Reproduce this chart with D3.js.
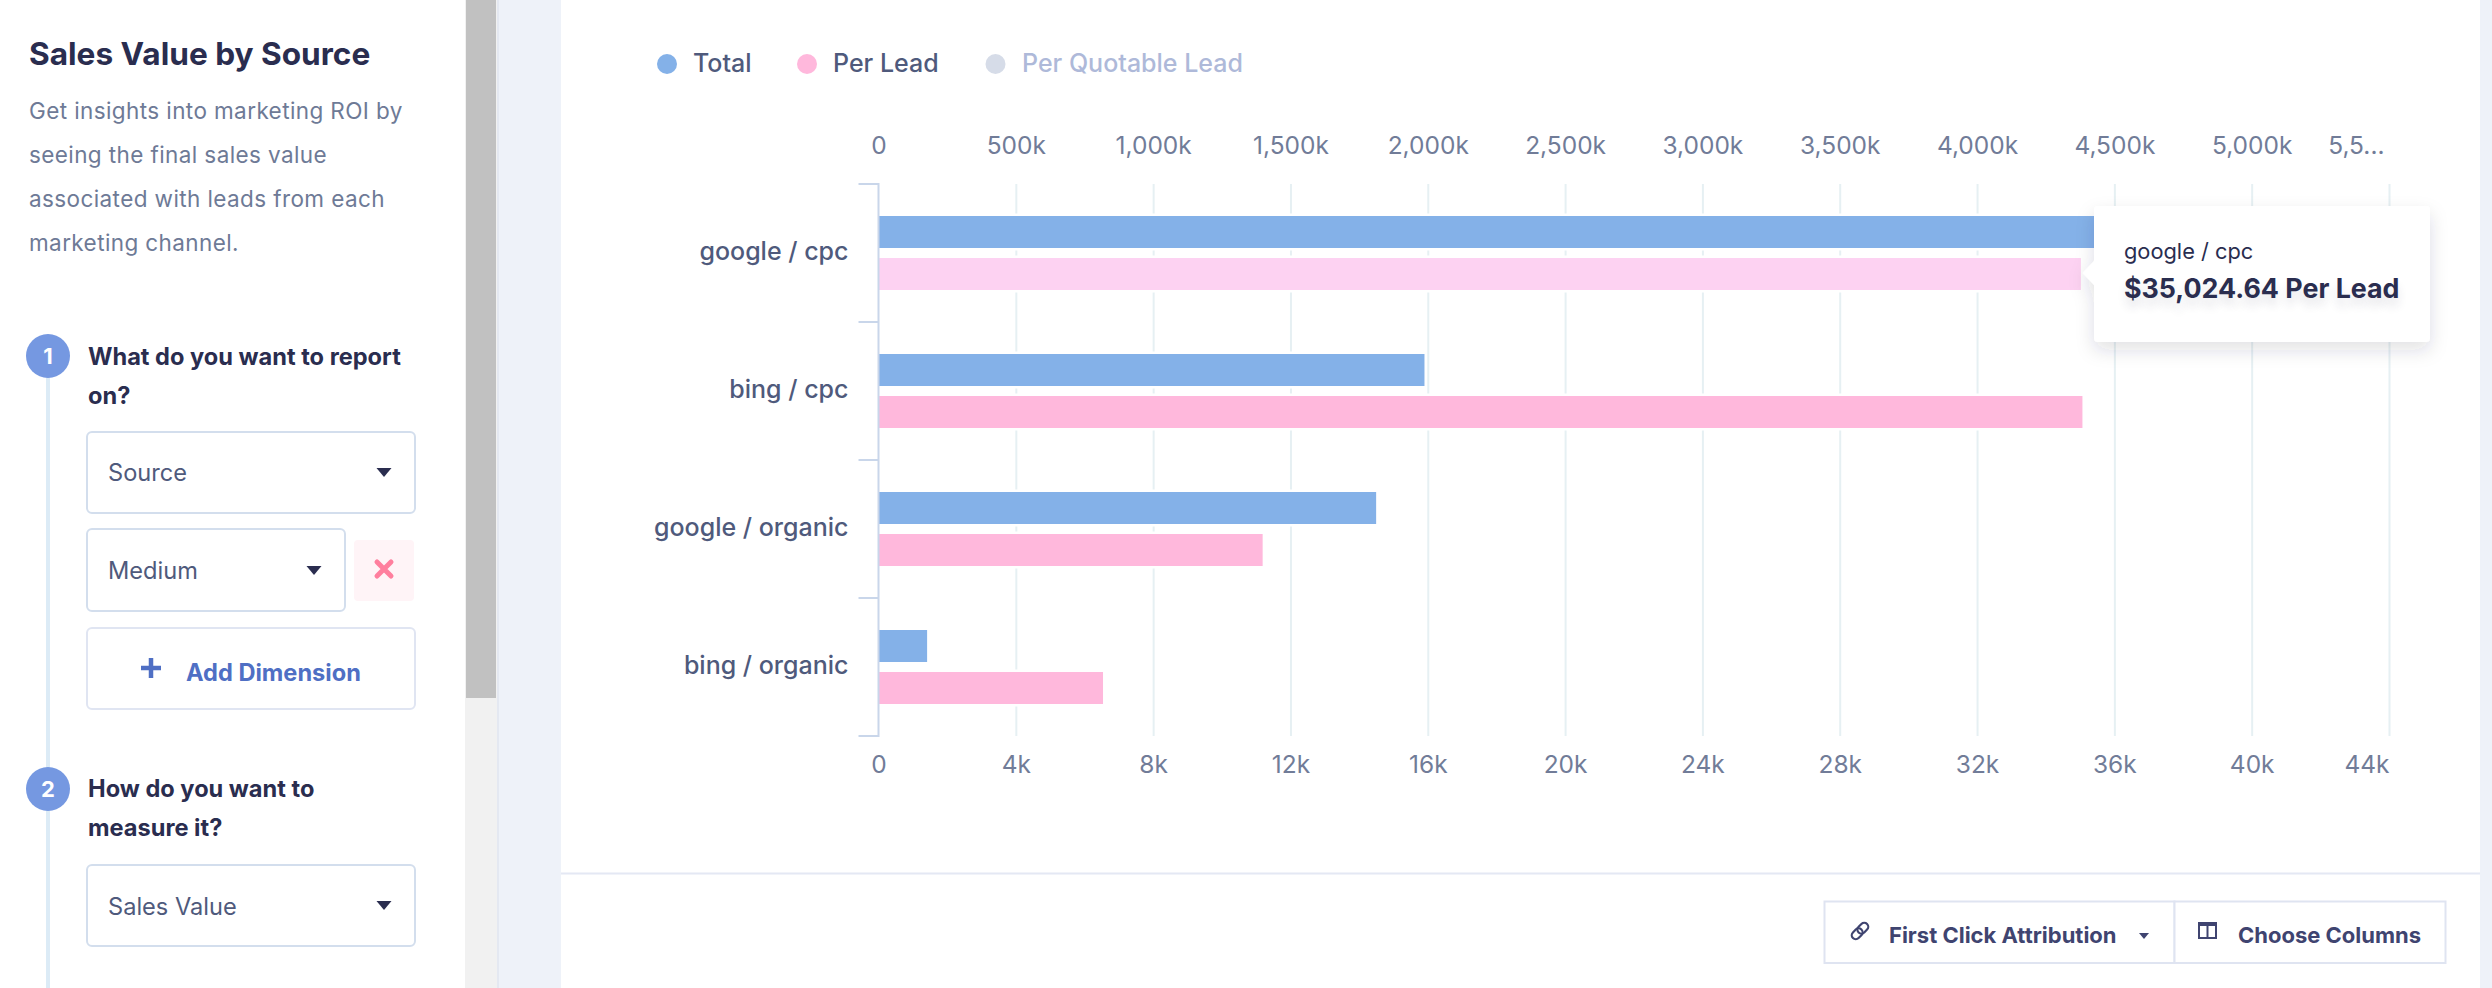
<!DOCTYPE html>
<html>
<head>
<meta charset="utf-8">
<script src="https://cdn.jsdelivr.net/npm/d3@7"></script>
<style>
html, body { margin: 0; padding: 0; background: #fff; overflow: hidden; }
svg { display: block; font-family: Inter, "Noto Sans", sans-serif; }
.axis path { display: none; }
.axis .tick line { stroke: #e6f0f3; stroke-width: 2; }
.axis .tick text { font-family: Inter, sans-serif; font-size: 24.5px; fill: #717c98; }
.cat-label { font-size: 25px; font-weight: 500; fill: #4f5a7c; text-anchor: end; }
.legend-text { font-size: 25px; font-weight: 500; }
.heading { font-size: 23.6px; font-weight: 700; fill: #2a2d4f; }
.desc { font-size: 22.5px; letter-spacing: 0.4px; fill: #6e7a96; }
.field { font-size: 23.6px; fill: #4f5a7c; }
.btn-text { font-size: 22px; font-weight: 700; fill: #3f4470; }
</style>
</head>
<body>
<div id="chart"></div>
<script>
var categories = ["google / cpc", "bing / cpc", "google / organic", "bing / organic"];
var totalValues = [4600000, 1988000, 1812000, 177000];
var perLeadValues = [35024.64, 35070, 11190, 6540];
var topTicks = [0, 500000, 1000000, 1500000, 2000000, 2500000, 3000000, 3500000, 4000000, 4500000, 5000000, 5500000];
var topLabels = ["0", "500k", "1,000k", "1,500k", "2,000k", "2,500k", "3,000k", "3,500k", "4,000k", "4,500k", "5,000k", "5,5..."];
var bottomTicks = [0, 4000, 8000, 12000, 16000, 20000, 24000, 28000, 32000, 36000, 40000, 44000];
var bottomLabels = ["0", "4k", "8k", "12k", "16k", "20k", "24k", "28k", "32k", "36k", "40k", "44k"];
var legendNames = ["Total", "Per Lead", "Per Quotable Lead"];
var descLines = ["Get insights into marketing ROI by", "seeing the final sales value", "associated with leads from each", "marketing channel."];

var width = 2492, height = 988;
var svg = d3.select("#chart").append("svg").attr("width", width).attr("height", height);

// page background and the panels around the chart
function box(x, y, w, h, fill, stroke, r){
    return svg.append("rect").attr("x", x).attr("y", y).attr("width", w).attr("height", h)
        .attr("fill", fill).attr("stroke", stroke || "none").attr("stroke-width", stroke ? 2 : 0).attr("rx", r || 0);
}
function label(x, y, str, cls){
    return svg.append("text").attr("x", x).attr("y", y).attr("class", cls).text(str);
}
function caret(cx, y, w, h, fill){
    svg.append("path").attr("d", "M" + (cx - w / 2) + "," + y + "h" + w + "l" + (-w / 2) + "," + h + "z").attr("fill", fill);
}

box(0, 0, width, height, "#eef2f9");
box(0, 0, 465, height, "#fff");
box(465, 0, 32, height, "#f1f1f1");
box(466, 0, 30, 698, "#c1c1c1");
box(497, 0, 2, height, "#e4e8f1");
box(561, 0, 1919, height, "#fff");

// left side form
label(29, 65, "Sales Value by Source", "title").attr("font-size", 31.6).attr("font-weight", 700).attr("fill", "#2a2d4f");
descLines.forEach(function(d, i){
    label(29, 118.5 + i * 44, d, "desc");
});

svg.append("line").attr("x1", 48).attr("x2", 48).attr("y1", 356).attr("y2", height)
    .attr("stroke", "#dcebf6").attr("stroke-width", 4);

function stepCircle(cy, n){
    svg.append("circle").attr("cx", 48).attr("cy", cy).attr("r", 22).attr("fill", "#7598e1");
    label(48, cy + 8, n, "step").attr("text-anchor", "middle").attr("font-size", 22).attr("font-weight", 700).attr("fill", "#fff");
}
stepCircle(356, "1");
stepCircle(789, "2");

label(88, 365, "What do you want to report", "heading");
label(88, 404, "on?", "heading");
label(88, 797, "How do you want to", "heading");
label(88, 836, "measure it?", "heading");

box(87, 432, 328, 81, "#fff", "#d3deed", 5);
label(108, 481, "Source", "field");
caret(384, 468, 15, 9, "#2a2d4f");

box(87, 529, 258, 82, "#fff", "#d3deed", 5);
label(108, 579, "Medium", "field");
caret(314, 566, 15, 9, "#2a2d4f");

box(354, 540, 60, 61, "#fff4f7", null, 4);
svg.append("path").attr("d", "M377,562L391,576M391,562L377,576")
    .attr("stroke", "#ff7f9e").attr("stroke-width", 5).attr("stroke-linecap", "round");

box(87, 628, 328, 81, "#fff", "#e0e5f2", 5);
svg.append("path").attr("d", "M141,668H161M151,658V678").attr("stroke", "#4f6fc4").attr("stroke-width", 4.5);
label(186, 681, "Add Dimension", "add").attr("font-size", 23.6).attr("font-weight", 700).attr("fill", "#4f6fc4");

box(87, 865, 328, 81, "#fff", "#d3deed", 5);
label(108, 914.5, "Sales Value", "field");
caret(384, 901, 15, 9, "#2a2d4f");

// legend
var legendDots = [667, 807, 995.5];
var legendTextX = [693, 833, 1022];
var legendDotFill = ["#84b1e8", "#ffb8dc", "#d6dce8"];
var legendTextFill = ["#4f5a7c", "#4f5a7c", "#aeb9d9"];
legendNames.forEach(function(d, i){
    svg.append("circle").attr("cx", legendDots[i]).attr("cy", 64).attr("r", 10).attr("fill", legendDotFill[i]);
    label(legendTextX[i], 72, d, "legend-text").attr("fill", legendTextFill[i]);
});

// scales, both axes share the same pixel range
var plotLeft = 878.5, plotRight = 2389, plotTop = 184, plotBottom = 736;
var xTotal = d3.scaleLinear().domain([0, 5500000]).range([plotLeft, plotRight]);
var xLead = d3.scaleLinear().domain([0, 44000]).range([plotLeft, plotRight]);
var yBand = d3.scaleBand().domain(categories).range([plotTop, plotBottom]);
var ySeries = d3.scaleBand().domain(legendNames.slice(0, 2)).range([0, 74]).paddingInner(10 / 42);

function tickLabel(labels){
    return function(d, i){ return labels[i]; };
}

svg.append("g").attr("class", "axis")
    .attr("transform", "translate(0," + plotTop + ")")
    .call(d3.axisTop(xTotal).tickValues(topTicks).tickFormat(tickLabel(topLabels)).tickSize(0).tickPadding(30));

var bottomAxis = svg.append("g").attr("class", "axis")
    .attr("transform", "translate(0," + plotBottom + ")")
    .call(d3.axisBottom(xLead).tickValues(bottomTicks).tickFormat(tickLabel(bottomLabels)).tickSize(-(plotBottom - plotTop)).tickPadding(20));
bottomAxis.selectAll(".tick line").filter(function(d){ return d === 0; }).remove();

// the last labels sit left of their tick
svg.selectAll(".axis .tick text").filter(function(d){ return d === 44000 || d === 5500000; })
    .attr("text-anchor", "end")
    .attr("dx", function(d){ return d === 5500000 ? -5 : 0; });

// bars
var rows = svg.append("g").selectAll("g").data(categories).enter().append("g")
    .attr("transform", function(d){ return "translate(0," + (yBand(d) + yBand.bandwidth() / 2 - 37) + ")"; });

function drawBars(name, values, scale, fillOf){
    rows.append("rect")
        .attr("x", plotLeft)
        .attr("y", ySeries(name))
        .attr("height", ySeries.bandwidth())
        .attr("width", function(d, i){ return scale(values[i]) - plotLeft; })
        .attr("fill", fillOf)
        .attr("stroke", "#fff").attr("stroke-width", 5)
        .style("paint-order", "stroke");
}
drawBars("Total", totalValues, xTotal, function(){ return "#84b1e8"; });
drawBars("Per Lead", perLeadValues, xLead, function(d, i){ return i === 0 ? "#fdd2f2" : "#ffb8dc"; });

// category axis on top of the bars' halos
var catAxis = svg.append("g").attr("class", "cat-axis");
catAxis.append("line").attr("x1", plotLeft).attr("x2", plotLeft).attr("y1", plotTop - 1).attr("y2", plotBottom + 1)
    .attr("stroke", "#c9d6ea").attr("stroke-width", 2);
d3.range(categories.length + 1).forEach(function(i){
    var y = plotTop + i * yBand.step();
    catAxis.append("line").attr("x1", plotLeft - 20).attr("x2", plotLeft).attr("y1", y).attr("y2", y)
        .attr("stroke", "#c9d6ea").attr("stroke-width", 2);
});
catAxis.selectAll("text").data(categories).enter().append("text")
    .attr("class", "cat-label")
    .attr("x", plotLeft - 30)
    .attr("y", function(d){ return yBand(d) + yBand.bandwidth() / 2 + 7; })
    .text(function(d){ return d; });

// tooltip
var defs = svg.append("defs");
var blur = defs.append("filter").attr("id", "tipShadow").attr("x", "-20%").attr("y", "-20%").attr("width", "140%").attr("height", "150%");
blur.append("feDropShadow").attr("dx", 0).attr("dy", 8).attr("stdDeviation", 9).attr("flood-color", "#27294a").attr("flood-opacity", 0.14);
var tipX = xLead(35024.64);
var tipY = yBand(categories[0]) + yBand.bandwidth() / 2 + 20;
svg.append("path")
    .attr("d", "M2098,206H2426a4,4 0 0 1 4,4V338a4,4 0 0 1 -4,4H2098a4,4 0 0 1 -4,-4V" + (tipY + 12) + "L" + (tipX + 2) + "," + tipY + "L2094," + (tipY - 12) + "V210a4,4 0 0 1 4,-4z")
    .attr("fill", "#fff").attr("filter", "url(#tipShadow)");
label(2124, 259, categories[0], "tip1").attr("font-size", 21.8).attr("fill", "#2a2d4f");
label(2124, 298, "$" + d3.format(",.2f")(perLeadValues[0]) + " " + legendNames[1], "tip2")
    .attr("font-size", 26.8).attr("font-weight", 700).attr("fill", "#2a2d4f")
    .style("text-shadow", "0 8px 10px rgba(39,41,74,0.12)");

// footer
box(561, 872.5, 1919, 2, "#e4e8f4");
box(1824.5, 901.5, 350, 61.5, "#fff", "#dfe4f1");
box(2174.5, 901.5, 271, 61.5, "#fff", "#dfe4f1");
svg.append("g").attr("transform", "translate(1860,931) rotate(45)").call(function(g){
    g.append("rect").attr("x", -4).attr("y", -10).attr("width", 8).attr("height", 12).attr("rx", 4).attr("fill", "none").attr("stroke", "#3f4470").attr("stroke-width", 2.2);
    g.append("rect").attr("x", -4).attr("y", -2).attr("width", 8).attr("height", 12).attr("rx", 4).attr("fill", "none").attr("stroke", "#3f4470").attr("stroke-width", 2.2);
});
label(1889, 943, "First Click Attribution", "btn-text");
caret(2144, 933, 10, 6, "#3f4470");
svg.append("rect").attr("x", 2199).attr("y", 923).attr("width", 17).attr("height", 15).attr("fill", "none").attr("stroke", "#3f4470").attr("stroke-width", 2);
svg.append("rect").attr("x", 2198).attr("y", 922).attr("width", 19).attr("height", 4).attr("fill", "#3f4470");
svg.append("line").attr("x1", 2207.5).attr("x2", 2207.5).attr("y1", 924).attr("y2", 938).attr("stroke", "#3f4470").attr("stroke-width", 2);
label(2238, 943, "Choose Columns", "btn-text");
</script>
</body>
</html>
